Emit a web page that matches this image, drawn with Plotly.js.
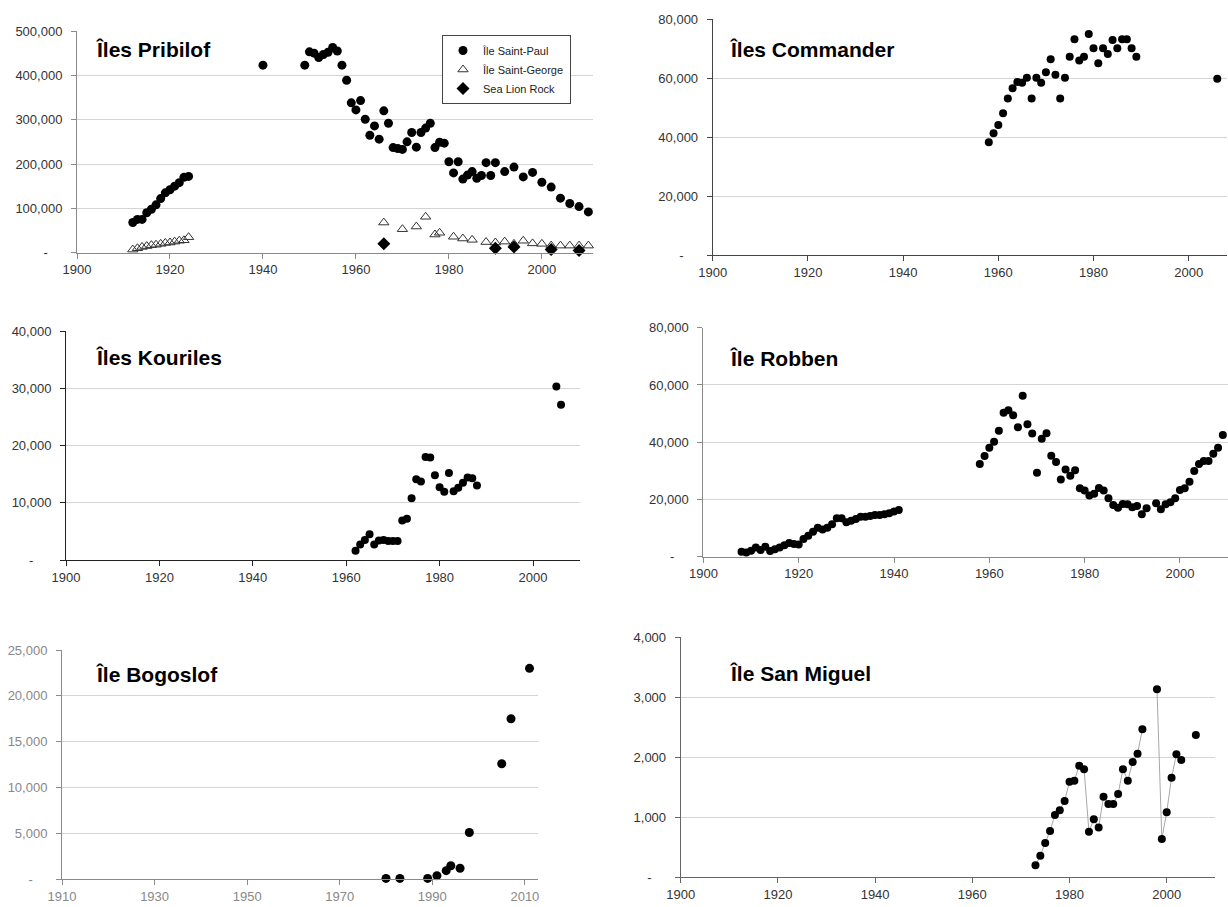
<!DOCTYPE html>
<html>
<head>
<meta charset="utf-8">
<script src="https://cdn.plot.ly/plotly-3.0.1.min.js"></script>
<style>html,body{margin:0;padding:0;background:#fff;}#chart{width:1228px;height:907px;}</style>
</head>
<body>
<div id="chart"></div>
<script>
// ---------- DATA ----------
// Îles Pribilof
const stPaulYears = [1912,1913,1914,1915,1916,1917,1918,1919,1920,1921,1922,1923,1924,1940,1949,1950,1951,1952,1953,1954,1955,1956,1957,1958,1959,1960,1961,1962,1963,1964,1965,1966,1967,1968,1969,1970,1971,1972,1973,1974,1975,1976,1977,1978,1979,1980,1981,1982,1983,1984,1985,1986,1987,1988,1989,1990,1992,1994,1996,1998,2000,2002,2004,2006,2008,2010];
const stPaulValues = [68000,75000,75000,90000,98000,108000,122000,135000,142000,150000,158000,170000,172000,423000,423000,453000,450000,440000,447000,452000,463000,455000,423000,389000,338000,322000,343000,301000,265000,286000,256000,320000,292000,237000,235000,233000,250000,271000,238000,271000,281000,292000,237000,249000,247000,205000,180000,205000,166000,175000,183000,168000,174000,203000,174000,203000,183000,193000,171000,181000,159000,148000,123000,111000,104000,92000];
const stGeorgeYears = [1912,1913,1914,1915,1916,1917,1918,1919,1920,1921,1922,1923,1924,1966,1970,1973,1975,1977,1978,1981,1983,1985,1988,1990,1992,1994,1996,1998,2000,2002,2004,2006,2008,2010];
const stGeorgeValues = [7000,10000,13000,15000,17000,18000,20000,22000,23000,25000,27000,28000,35000,68000,53000,59000,81000,41000,45000,36000,32000,29000,24000,23000,25000,20000,27000,21000,20000,16000,16000,16000,16000,16000];
const seaLionYears = [1966,1990,1994,2002,2008];
const seaLionValues = [20000,10000,13000,7000,5000];

// Îles Commander
const commanderYears = [1958,1959,1960,1961,1962,1963,1964,1965,1966,1967,1968,1969,1970,1971,1972,1973,1974,1975,1976,1977,1978,1979,1980,1981,1982,1983,1984,1985,1986,1987,1988,1989,2006];
const commanderValues = [38300,41300,44100,48100,53100,56600,58700,58500,60200,53100,60200,58500,62000,66400,61200,53100,60200,67300,73200,66000,67300,75000,70200,65100,70200,68200,73000,70200,73200,73200,70200,67300,59800];

// Îles Kouriles
const kourilesYears = [1962,1963,1964,1965,1966,1967,1968,1969,1970,1971,1972,1973,1974,1975,1976,1977,1978,1979,1980,1981,1982,1983,1984,1985,1986,1987,1988,2005,2006];
const kourilesValues = [1600,2700,3500,4500,2700,3400,3500,3300,3300,3300,6900,7200,10800,14100,13700,18000,17900,14800,12700,11900,15200,12000,12600,13500,14400,14300,13000,30300,27100];

// Île Robben
const robbenYears = [1908,1909,1910,1911,1912,1913,1914,1915,1916,1917,1918,1919,1920,1921,1922,1923,1924,1925,1926,1927,1928,1929,1930,1931,1932,1933,1934,1935,1936,1937,1938,1939,1940,1941,1958,1959,1960,1961,1962,1963,1964,1965,1966,1967,1968,1969,1970,1971,1972,1973,1974,1975,1976,1977,1978,1979,1980,1981,1982,1983,1984,1985,1986,1987,1988,1989,1990,1991,1992,1993,1995,1996,1997,1998,1999,2000,2001,2002,2003,2004,2005,2006,2007,2008,2009];
const robbenValues = [1750,1500,2100,3200,2300,3500,2000,2600,3200,4000,4800,4400,4300,6200,7300,8700,10100,9500,10100,11300,13400,13400,12000,12600,13200,14000,14000,14200,14600,14600,14800,15200,15800,16300,32400,35200,38100,40200,44000,50300,51200,49400,45200,56200,46300,43000,29300,41200,43100,35300,33100,27000,30500,28300,30200,23900,23100,21400,22000,24000,23100,20400,18100,17100,18400,18300,17300,17700,14800,16900,18700,16600,18300,19000,20400,23300,23900,26200,29900,32400,33400,33400,36000,38100,42500];

// Île Bogoslof
const bogoslofYears = [1980,1983,1989,1991,1993,1994,1996,1998,2005,2007,2011];
const bogoslofValues = [100,100,100,400,940,1480,1200,5100,12600,17500,23000];

// Île San Miguel (null = year without count, breaks the line)
const sanMiguelYears = [1973,1974,1975,1976,1977,1978,1979,1980,1981,1982,1983,1984,1985,1986,1987,1988,1989,1990,1991,1992,1993,1994,1995,1996,1997,1998,1999,2000,2001,2002,2003,2004,2005,2006];
const sanMiguelValues = [200,360,572,772,1038,1117,1272,1594,1611,1861,1800,761,967,828,1344,1222,1222,1389,1800,1611,1922,2061,2467,null,null,3133,639,1083,1661,2050,1956,null,null,2372];

// Tick values and labels
const yearTicksA = [1900,1920,1940,1960,1980,2000];
const yearLabelsA = ['1900','1920','1940','1960','1980','2000'];
const yearTicksB = [1910,1930,1950,1970,1990,2010];
const yearLabelsB = ['1910','1930','1950','1970','1990','2010'];
const pribilofTicks = [0,100000,200000,300000,400000,500000];
const pribilofLabels = ['-\u00a0\u00a0\u00a0\u00a0','100,000','200,000','300,000','400,000','500,000'];
const ticks80k = [0,20000,40000,60000,80000];
const labels80k = ['-\u00a0\u00a0\u00a0\u00a0','20,000','40,000','60,000','80,000'];
const ticks40k = [0,10000,20000,30000,40000];
const labels40k = ['-\u00a0\u00a0\u00a0\u00a0\u00a0','10,000','20,000','30,000','40,000'];
const ticks25k = [0,5000,10000,15000,20000,25000];
const labels25k = ['-\u00a0\u00a0\u00a0\u00a0','5,000','10,000','15,000','20,000','25,000'];
const ticks4k = [0,1000,2000,3000,4000];
const labels4k = ['-\u00a0\u00a0\u00a0\u00a0','1,000','2,000','3,000','4,000'];

const titles = ['Îles Pribilof','Îles Commander','Îles Kouriles','Île Robben','Île Bogoslof','Île San Miguel'];
const legendNames = ['Île Saint-Paul','Île Saint-George','Sea Lion Rock'];

// ---------- LAYOUT ----------
const W = 1228, H = 907;
const FONT = 'Liberation Sans, Arial, sans-serif';
// pixel boxes of each plot area: [left, right, top, bottom]
const boxes = [
  [77, 593, 31, 252.7],
  [712.7, 1226.8, 19.3, 255],
  [66, 579.7, 331, 560],
  [703.4, 1227.6, 327.7, 556.7],
  [62, 538.3, 650, 879.3],
  [680.7, 1215.3, 637.3, 877.3]
];
const xRanges = [[1900,2011],[1900,2008],[1900,2010],[1900,2010],[1910,2012.9],[1900,2010]];
const yRanges = [[0,500000],[0,80000],[0,40000],[0,80000],[0,25000],[0,4000]];
const yTicks = [[pribilofTicks,pribilofLabels],[ticks80k,labels80k],[ticks40k,labels40k],[ticks80k,labels80k],[ticks25k,labels25k],[ticks4k,labels4k]];
const xTicks = [[yearTicksA,yearLabelsA],[yearTicksA,yearLabelsA],[yearTicksA,yearLabelsA],[yearTicksA,yearLabelsA],[yearTicksB,yearLabelsB],[yearTicksA,yearLabelsA]];
const axisColors = ['#8a8a8a','#444','#222','#8a8a8a','#8a8a8a','#666'];
const labelColors = ['#333','#333','#333','#333','#888','#333'];
const titlePos = [[94,49],[728,49],[94,358],[728,359],[94,674],[728,673]];

const layout = {
  width: W, height: H,
  margin: {l:0, r:0, t:0, b:0},
  paper_bgcolor: '#fff', plot_bgcolor: 'rgba(0,0,0,0)',
  font: {family: FONT, color: '#333'},
  showlegend: true,
  legend: {
    x: 442/W, y: 1 - 35/H, xanchor: 'left', yanchor: 'top',
    bordercolor: '#444', borderwidth: 1, bgcolor: '#fff',
    font: {family: FONT, size: 11, color: '#222'},
    itemwidth: 30, tracegroupgap: 0
  },
  annotations: []
};

for (let i = 0; i < 6; i++) {
  const s = i === 0 ? '' : String(i + 1);
  const b = boxes[i];
  layout['xaxis' + s] = {
    domain: [b[0] / W, b[1] / W],
    range: xRanges[i],
    anchor: 'y' + s,
    showgrid: false, zeroline: false,
    showline: true, linecolor: axisColors[i], linewidth: 1,
    ticks: 'outside', ticklen: 5, tickcolor: axisColors[i], tickwidth: 1,
    tickmode: 'array', tickvals: xTicks[i][0], ticktext: xTicks[i][1],
    tickfont: {family: FONT, size: 13, color: labelColors[i]},
    fixedrange: true
  };
  layout['yaxis' + s] = {
    domain: [1 - b[3] / H, 1 - b[2] / H],
    range: yRanges[i],
    anchor: 'x' + s,
    showgrid: true, gridcolor: '#d4d4d4', gridwidth: 1,
    zeroline: false,
    showline: true, linecolor: axisColors[i], linewidth: 1,
    ticks: 'outside', ticklen: 5, tickcolor: axisColors[i], tickwidth: 1,
    tickmode: 'array', tickvals: yTicks[i][0], ticktext: yTicks[i][1],
    tickfont: {family: FONT, size: 13, color: labelColors[i]},
    ticklabelstandoff: 6,
    fixedrange: true
  };
  layout.annotations.push({
    xref: 'paper', yref: 'paper',
    x: titlePos[i][0] / W, y: 1 - titlePos[i][1] / H,
    xanchor: 'left', yanchor: 'middle',
    text: '<b>' + titles[i] + '</b>', showarrow: false,
    font: {family: FONT, size: 21, color: '#000'}
  });
}

const dot = (size) => ({symbol: 'circle', size: size, color: '#000', line: {width: 0}});

const data = [
  {type:'scatter', mode:'markers', name: legendNames[0], x: stPaulYears, y: stPaulValues, xaxis:'x', yaxis:'y', marker: dot(9), cliponaxis:false},
  {type:'scatter', mode:'markers', name: legendNames[1], x: stGeorgeYears, y: stGeorgeValues, xaxis:'x', yaxis:'y', marker: {symbol:'triangle-up-open', size:9, color:'#333', line:{width:1}}, cliponaxis:false},
  {type:'scatter', mode:'markers', name: legendNames[2], x: seaLionYears, y: seaLionValues, xaxis:'x', yaxis:'y', marker: {symbol:'diamond', size:10, color:'#000'}, cliponaxis:false},
  {type:'scatter', mode:'markers', showlegend:false, x: commanderYears, y: commanderValues, xaxis:'x2', yaxis:'y2', marker: dot(8), cliponaxis:false},
  {type:'scatter', mode:'markers', showlegend:false, x: kourilesYears, y: kourilesValues, xaxis:'x3', yaxis:'y3', marker: dot(8), cliponaxis:false},
  {type:'scatter', mode:'markers', showlegend:false, x: robbenYears, y: robbenValues, xaxis:'x4', yaxis:'y4', marker: dot(8), cliponaxis:false},
  {type:'scatter', mode:'markers', showlegend:false, x: bogoslofYears, y: bogoslofValues, xaxis:'x5', yaxis:'y5', marker: dot(9), cliponaxis:false},
  {type:'scatter', mode:'lines+markers', showlegend:false, x: sanMiguelYears, y: sanMiguelValues, xaxis:'x6', yaxis:'y6', connectgaps:false, line:{color:'#a8a8a8', width:1}, marker: dot(8), cliponaxis:false}
];

Plotly.newPlot('chart', data, layout, {staticPlot: true, displayModeBar: false});
</script>
</body>
</html>
